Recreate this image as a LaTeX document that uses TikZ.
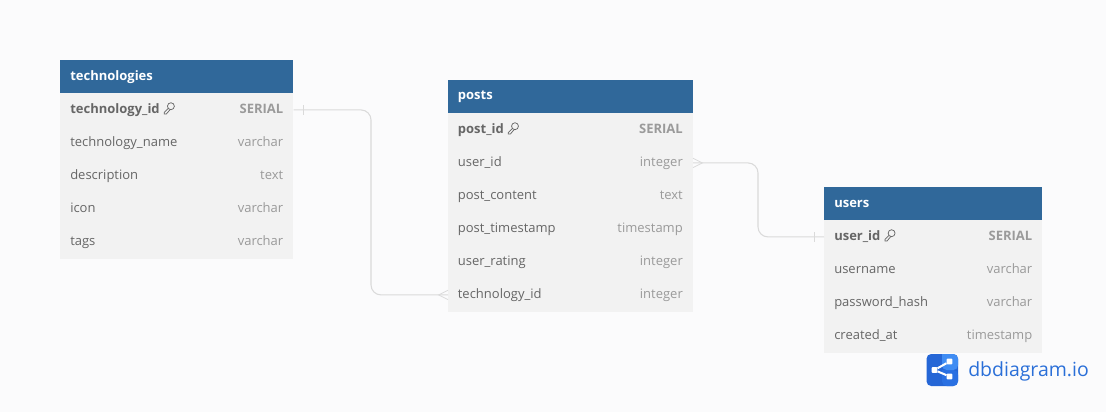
\documentclass[tikz,border=0pt]{standalone}
\usepackage{fontspec}
\setmainfont{Open Sans}
\definecolor{pagebg}{HTML}{FBFBFC}
\definecolor{headbg}{HTML}{30689A}
\definecolor{rowbg}{HTML}{F2F2F2}
\definecolor{rowtext}{HTML}{666666}
\definecolor{typetext}{HTML}{9A9A9A}
\definecolor{linkgray}{HTML}{DADADA}
\definecolor{logodark}{HTML}{2566D6}
\definecolor{logomid}{HTML}{2A70E2}
\definecolor{logolight}{HTML}{3F8CF3}
\definecolor{logotext}{HTML}{2A6FD8}
\tikzset{
	headbox/.style={rectangle, fill=headbg, anchor=north west, inner sep=0pt, minimum height=24.75pt},
	rowbox/.style={rectangle, fill=rowbg, anchor=north west, inner sep=0pt, minimum height=25pt},
	headname/.style={anchor=base west, inner sep=0pt, text=white, font=\fontsize{9.75}{12}\selectfont\bfseries},
	colname/.style={anchor=base west, inner sep=0pt, text=rowtext, font=\fontsize{9.75}{12}\selectfont},
	coltype/.style={anchor=base east, inner sep=0pt, text=typetext, font=\fontsize{9.75}{12}\selectfont},
	pkname/.style={colname, font=\fontsize{9.75}{12}\selectfont\bfseries},
	pktype/.style={coltype, font=\fontsize{9.75}{12}\selectfont\bfseries},
	link/.style={draw=linkgray, line width=0.8pt, rounded corners=7.5pt},
	linkend/.style={draw=linkgray, line width=0.6pt},
	keyline/.style={draw=rowtext, line width=0.55pt},
	logodot/.style={rectangle, fill=white, rounded corners=0.6pt, minimum size=4.2pt, inner sep=0pt}
}
\begin{document}
\begin{tikzpicture}[x=0.75pt, y=-0.75pt]

\useasboundingbox[fill=pagebg] (0,0) rectangle (1106,412);

% Tabla technologies
\node[headbox, minimum width=174.75pt] (techhead) at (60,60) {};
\node[headname] (techtitle) at ([xshift=7.5pt,yshift=-2.8pt]techhead.west) {technologies};
\foreach \name/\type [count=\i from 0] in {technology\_id/SERIAL, technology\_name/varchar, description/text, icon/varchar, tags/varchar} {
	\ifnum\i=0 \tikzset{curname/.style={pkname}, curtype/.style={pktype}}
	\else \tikzset{curname/.style={colname}, curtype/.style={coltype}} \fi
	\node[rowbox, minimum width=174.75pt] (tech\i) at (60,93+33*\i) {};
	\node[curname] (techname\i) at ([xshift=7.5pt,yshift=-2.8pt]tech\i.west) {\name};
	\node[curtype] (techtype\i) at ([xshift=-7.5pt,yshift=-2.8pt]tech\i.east) {\type};
}

% Tabla posts
\node[headbox, minimum width=183.4pt] (posthead) at (448,80) {};
\node[headname] (posttitle) at ([xshift=7.2pt,yshift=-2.2pt]posthead.west) {posts};
\foreach \name/\type [count=\i from 0] in {post\_id/SERIAL, user\_id/integer, post\_content/text, post\_timestamp/timestamp, user\_rating/integer, technology\_id/integer} {
	\ifnum\i=0 \tikzset{curname/.style={pkname}, curtype/.style={pktype}}
	\else \tikzset{curname/.style={colname}, curtype/.style={coltype}} \fi
	\node[rowbox, minimum width=183.4pt] (post\i) at (448,113+33*\i) {};
	\node[curname] (postname\i) at ([xshift=7.2pt,yshift=-2.8pt]post\i.west) {\name};
	\node[curtype] (posttype\i) at ([xshift=-7.5pt,yshift=-2.8pt]post\i.east) {\type};
}

% Tabla users
\node[headbox, minimum width=163.5pt] (userhead) at (824,187) {};
\node[headname] (usertitle) at ([xshift=7.5pt,yshift=-2.8pt]userhead.west) {users};
\foreach \name/\type [count=\i from 0] in {user\_id/SERIAL, username/varchar, password\_hash/varchar, created\_at/timestamp} {
	\ifnum\i=0 \tikzset{curname/.style={pkname}, curtype/.style={pktype}}
	\else \tikzset{curname/.style={colname}, curtype/.style={coltype}} \fi
	\node[rowbox, minimum width=163.5pt] (user\i) at (824,220+33.1*\i) {};
	\node[curname] (username\i) at ([xshift=7.5pt,yshift=-2.8pt]user\i.west) {\name};
	\node[curtype] (usertype\i) at ([xshift=-7.5pt,yshift=-2.8pt]user\i.east) {\type};
}

% Llaves
\foreach \k in {techname0, postname0, username0} {
	\begin{scope}[shift={(\k.base east)}, x=1pt, y=1pt]
		\draw[keyline] (8.2,5.6) circle (2.6);
		\draw[keyline] (6.2,3.9) -- (3.2,0.9) -- (3.2,-0.2) -- (4.8,-0.2) -- (7.6,3.1);
	\end{scope}
}

% Relaciones
\coordinate (mida) at (371,200);
\coordinate (midb) at (758,200);
\draw[link] (tech0.east) -| (mida) |- (post5.west);
\draw[link] (post1.east) -| (midb) |- (user0.west);

\draw[linkend] ([xshift=7.5pt,yshift=3.5pt]tech0.east) -- ([xshift=7.5pt,yshift=-3.5pt]tech0.east);
\draw[linkend] ([xshift=-7.5pt,yshift=3.5pt]user0.west) -- ([xshift=-7.5pt,yshift=-3.5pt]user0.west);
\draw[linkend] ([yshift=3.5pt]post5.west) -- ([xshift=-7pt]post5.west) -- ([yshift=-3.5pt]post5.west);
\draw[linkend] ([yshift=3.5pt]post1.east) -- ([xshift=7pt]post1.east) -- ([yshift=-3.5pt]post1.east);

% Logo
\fill[logodark, rounded corners=3.5pt] (926.5,354) rectangle (958,386);
\fill[logomid, rounded corners=3.5pt] (942,370) -- (958,370) -- (958,386) -- (942,386) [sharp corners] -- cycle;
\fill[logolight, rounded corners=3.5pt] (942,354) -- (958,354) -- (958,370) -- (942,370) [sharp corners] -- cycle;
\node[logodot] (dotl) at (934.5,370) {};
\node[logodot] (dotu) at (949.5,361.5) {};
\node[logodot] (dotd) at (949.5,376.5) {};
\draw[white, line width=1.5pt] (dotu) -- (dotl) -- (dotd);
\node[anchor=base west, inner sep=0pt, text=logotext, font=\fontsize{14.6}{18}\selectfont] (brand) at (968,376.5) {dbdiagram.io};

\end{tikzpicture}
\end{document}
